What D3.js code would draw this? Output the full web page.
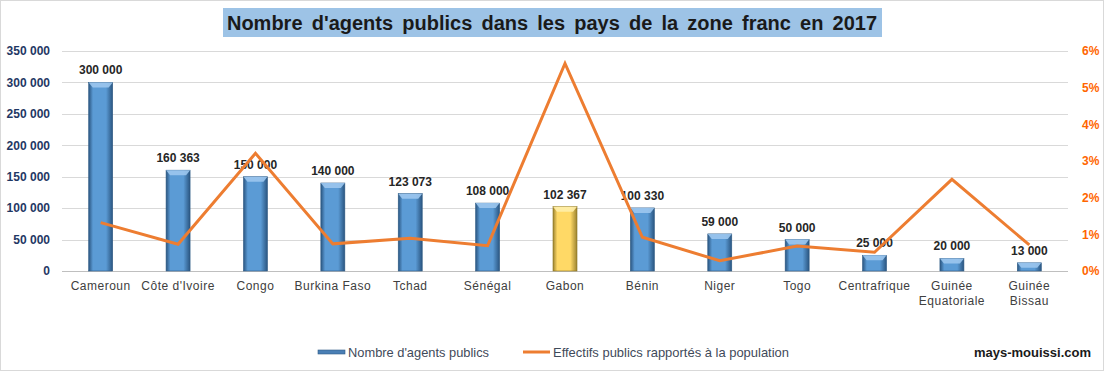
<!DOCTYPE html>
<html><head><meta charset="utf-8">
<script src="https://cdnjs.cloudflare.com/ajax/libs/d3/7.8.5/d3.min.js"></script>
<style>body{margin:0;background:#fff}svg{display:block;font-family:"Liberation Sans",Arial,sans-serif}</style>
</head><body><svg id="c" width="1105" height="376"></svg>
<script>
const categories=["Cameroun","Côte d'Ivoire","Congo","Burkina Faso","Tchad","Sénégal","Gabon","Bénin","Niger","Togo","Centrafrique","Guinée\nEquatoriale","Guinée\nBissau"];
const agents=[300000,160363,150000,140000,123073,108000,102367,100330,59000,50000,25000,20000,13000];
const ratio=[1.32,0.73,3.21,0.74,0.89,0.69,5.66,0.92,0.28,0.68,0.51,2.50,0.71];
const leftTicks=[0,50000,100000,150000,200000,250000,300000,350000];
const rightTicks=[0,1,2,3,4,5,6];
const highlight="Gabon";
const title="Nombre d'agents publics dans les pays de la zone franc en 2017";
const legendLabels=["Nombre d'agents publics","Effectifs publics rapportés à la population"];
const source="mays-mouissi.com";

const svg=d3.select("#c");
const M={l:62,r:1068,t:51,b:271};
const fmt=v=>d3.format(",")(v).replace(/,/g," ");
const x=d3.scaleBand().domain(categories).range([M.l,M.r]).paddingInner(0).paddingOuter(0);
const y=d3.scaleLinear().domain([0,350000]).range([M.b,M.t]);
const y2=d3.scaleLinear().domain([0,6]).range([M.b,M.t]);

const defs=svg.append("defs");
function grad(id,dark,mid){
  const g=defs.append("linearGradient").attr("id",id).attr("x1",0).attr("x2",1).attr("y1",0).attr("y2",0);
  g.append("stop").attr("offset","0%").attr("stop-color",dark);
  g.append("stop").attr("offset","18%").attr("stop-color",mid);
  g.append("stop").attr("offset","72%").attr("stop-color",mid);
  g.append("stop").attr("offset","100%").attr("stop-color",dark);
}
grad("gb","#2a5580","#5b9bd5");
grad("gy","#9c8330","#ffd966");

svg.append("rect").attr("x",0.5).attr("y",0.5).attr("width",1103).attr("height",370).attr("fill","#fff").attr("stroke","#d9d9d9");

// grid
svg.append("g").selectAll("line").data(leftTicks).join("line")
 .attr("x1",M.l).attr("x2",M.r).attr("y1",d=>Math.round(y(d))+0.5).attr("y2",d=>Math.round(y(d))+0.5)
 .attr("stroke",d=>d===0?"#bfbfbf":"#d9d9d9").attr("stroke-width",1);

// left axis
const la=svg.append("g").attr("transform",`translate(${M.l-9},0)`).call(d3.axisLeft(y).tickValues(leftTicks).tickFormat(fmt).tickSize(0));
la.select(".domain").remove();
la.selectAll("text").attr("fill","#1f3864").attr("font-size",12).attr("font-weight","bold").attr("font-family","Liberation Sans, Arial");
// right axis
const ra=svg.append("g").attr("transform",`translate(${M.r+11},0)`).call(d3.axisRight(y2).tickValues(rightTicks).tickFormat(d=>d+"%").tickSize(0));
ra.select(".domain").remove();
ra.selectAll("text").attr("fill","#ff6600").attr("font-size",12).attr("font-weight","bold").attr("font-family","Liberation Sans, Arial");

// bars
const bw=24;
const bars=svg.append("g").selectAll("g").data(categories).join("g");
bars.append("rect").attr("x",d=>x(d)+x.bandwidth()/2-bw/2).attr("width",bw)
 .attr("y",(d,i)=>y(agents[i])).attr("height",(d,i)=>y(0)-y(agents[i]))
 .attr("fill",d=>d===highlight?"url(#gy)":"url(#gb)").attr("stroke",d=>d===highlight?"#8a7420":"#2f5b85").attr("stroke-width",0.6);
bars.append("path").attr("d",(d,i)=>{const x0=x(d)+x.bandwidth()/2-bw/2,y0=y(agents[i]),h=Math.min(5,y(0)-y0);return `M${x0},${y0}L${x0+bw},${y0}L${x0+bw-4},${y0+h}L${x0+4},${y0+h}Z`;})
 .attr("fill",d=>d===highlight?"#ffeeaa":"#9cc7ee").attr("opacity",0.9);
// data labels
svg.append("g").selectAll("text").data(categories).join("text")
 .attr("x",d=>x(d)+x.bandwidth()/2).attr("y",(d,i)=>y(agents[i])-8)
 .attr("text-anchor","middle").attr("font-size",12).attr("font-weight","bold").attr("fill","#262626")
 .text((d,i)=>fmt(agents[i]));

// line
const line=d3.line().x((d,i)=>x(categories[i])+x.bandwidth()/2).y(d=>y2(d));
svg.append("path").datum(ratio).attr("d",line).attr("fill","none").attr("stroke","#ed7d31").attr("stroke-width",3).attr("stroke-linejoin","miter");

// category labels
const cl=svg.append("g").selectAll("text").data(categories).join("text")
 .attr("y",290).attr("text-anchor","middle").attr("font-size",12).attr("fill","#404040").attr("letter-spacing",0.5);
cl.each(function(d){
  const cx=x(d)+x.bandwidth()/2;
  const parts=d.split("\n");
  d3.select(this).selectAll("tspan").data(parts).join("tspan").attr("x",cx).attr("dy",(p,j)=>j?15:0).text(p=>p);
});

// title
svg.append("rect").attr("x",223).attr("y",8).attr("width",659).attr("height",29).attr("fill","#9dc3e6");
svg.append("text").attr("x",552).attr("y",30).attr("text-anchor","middle").attr("font-size",20).attr("font-weight","bold").attr("fill","#1a1a1a").attr("word-spacing",3.6).text(title);

// legend
const lg=svg.append("g").attr("font-size",13).attr("fill","#3f4a5a");
lg.append("rect").attr("x",318).attr("y",350).attr("width",27).attr("height",4).attr("fill","#4a7fb5").attr("stroke","#2f5b85").attr("stroke-width",0.6);
lg.append("text").attr("x",348).attr("y",357).attr("textLength",141).attr("lengthAdjust","spacingAndGlyphs").text(legendLabels[0]);
lg.append("line").attr("x1",523).attr("x2",550).attr("y1",352).attr("y2",352).attr("stroke","#ed7d31").attr("stroke-width",3);
lg.append("text").attr("x",553).attr("y",357).attr("textLength",236).attr("lengthAdjust","spacingAndGlyphs").text(legendLabels[1]);
svg.append("text").attr("x",1091).attr("y",357).attr("text-anchor","end").attr("font-size",13).attr("font-weight","bold").attr("fill","#1a1a1a").text(source);
</script></body></html>
